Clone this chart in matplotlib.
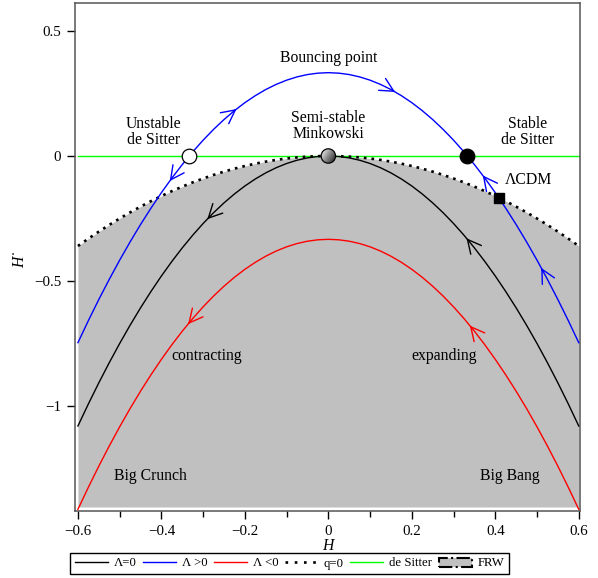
import numpy as np
import matplotlib
matplotlib.use("Agg")
import matplotlib.pyplot as plt
from matplotlib.lines import Line2D
from matplotlib.patches import Patch, Ellipse

plt.rcParams['font.family'] = ['Liberation Serif', 'DejaVu Serif']
plt.rcParams['mathtext.fontset'] = 'stix'

# ---- data ----
H = [-0.6, -0.575, -0.55, -0.525, -0.5, -0.475, -0.45, -0.425, -0.4, -0.375, -0.35, -0.325,
     -0.3, -0.275, -0.25, -0.225, -0.2, -0.175, -0.15, -0.125, -0.1, -0.075, -0.05, -0.025,
     0.0,
     0.025, 0.05, 0.075, 0.1, 0.125, 0.15, 0.175, 0.2, 0.225, 0.25, 0.275, 0.3,
     0.325, 0.35, 0.375, 0.4, 0.425, 0.45, 0.475, 0.5, 0.525, 0.55, 0.575, 0.6]
lam_zero = [-1.08, -0.9919, -0.9075, -0.8269, -0.75, -0.6769, -0.6075, -0.5419, -0.48, -0.4219,
            -0.3675, -0.3169, -0.27, -0.2269, -0.1875, -0.1519, -0.12, -0.0919, -0.0675, -0.0469,
            -0.03, -0.0169, -0.0075, -0.0019,
            0.0,
            -0.0019, -0.0075, -0.0169, -0.03, -0.0469, -0.0675, -0.0919, -0.12, -0.1519, -0.1875,
            -0.2269, -0.27, -0.3169, -0.3675, -0.4219, -0.48, -0.5419, -0.6075, -0.6769, -0.75,
            -0.8269, -0.9075, -0.9919, -1.08]
lam_pos = [-0.7467, -0.6586, -0.5742, -0.4936, -0.4167, -0.3436, -0.2742, -0.2086, -0.1467, -0.0886,
           -0.0342, 0.0164, 0.0633, 0.1064, 0.1458, 0.1814, 0.2133, 0.2414, 0.2658, 0.2864,
           0.3033, 0.3164, 0.3258, 0.3314,
           0.3333,
           0.3314, 0.3258, 0.3164, 0.3033, 0.2864, 0.2658, 0.2414, 0.2133, 0.1814, 0.1458,
           0.1064, 0.0633, 0.0164, -0.0342, -0.0886, -0.1467, -0.2086, -0.2742, -0.3436, -0.4167,
           -0.4936, -0.5742, -0.6586, -0.7467]
lam_neg = [-1.4133, -1.3252, -1.2408, -1.1602, -1.0833, -1.0102, -0.9408, -0.8752, -0.8133, -0.7552,
           -0.7008, -0.6502, -0.6033, -0.5602, -0.5208, -0.4852, -0.4533, -0.4252, -0.4008, -0.3802,
           -0.3633, -0.3502, -0.3408, -0.3352,
           -0.3333,
           -0.3352, -0.3408, -0.3502, -0.3633, -0.3802, -0.4008, -0.4252, -0.4533, -0.4852, -0.5208,
           -0.5602, -0.6033, -0.6502, -0.7008, -0.7552, -0.8133, -0.8752, -0.9408, -1.0102, -1.0833,
           -1.1602, -1.2408, -1.3252, -1.4133]
q_zero = [-0.36, -0.3306, -0.3025, -0.2756, -0.25, -0.2256, -0.2025, -0.1806, -0.16, -0.1406,
          -0.1225, -0.1056, -0.09, -0.0756, -0.0625, -0.0506, -0.04, -0.0306, -0.0225, -0.0156,
          -0.01, -0.0056, -0.0025, -0.0006,
          0.0,
          -0.0006, -0.0025, -0.0056, -0.01, -0.0156, -0.0225, -0.0306, -0.04, -0.0506, -0.0625,
          -0.0756, -0.09, -0.1056, -0.1225, -0.1406, -0.16, -0.1806, -0.2025, -0.2256, -0.25,
          -0.2756, -0.3025, -0.3306, -0.36]
frw_bottom = -1.404
de_sitter = 0.0

# fixed points
unstable_dS = (-0.3333, 0.0)
minkowski = (0.0, 0.0)
stable_dS = (0.3333, 0.0)
lcdm = (0.408, -0.1667)

# arrows: (H of tip, direction +1 = increasing H, -1 = decreasing H)
arrows_blue = [(-0.22, +1), (0.16, +1), (-0.38, -1), (0.37, -1), (0.51, -1)]
arrows_black = [(-0.29, -1), (0.331, -1)]
arrows_red = [(-0.336, -1), (0.339, -1)]

xticks = [-0.6, -0.4, -0.2, 0, 0.2, 0.4, 0.6]
xtick_labels = ['\u22120.6', '\u22120.4', '\u22120.2', '0', '0.2', '0.4', '0.6']
yticks = [0.5, 0, -0.5, -1]
ytick_labels = ['0.5', '0', '\u22120.5', '\u22121']

# ---- figure ----
fig = plt.figure(figsize=(5.98, 5.78), dpi=100)
ax = fig.add_axes([75/598, 1-511/578, (580-75)/598, (511-3)/578])

ax.fill_between(H, q_zero, frw_bottom, color='#c0c0c0', lw=0, zorder=1)
ax.plot(H, q_zero, color='black', lw=1.9, ls=(0, (1, 1.9)), dash_capstyle='butt', zorder=3)
ax.plot([H[0], H[-1]], [de_sitter, de_sitter], color='#00ff00', lw=1.0, zorder=2)
ax.plot(H, lam_zero, color='black', lw=1.0, zorder=4)
ax.plot(H, lam_pos, color='blue', lw=1.0, zorder=4)
ax.plot(H, lam_neg, color='red', lw=1.0, zorder=4)

def add_arrows(curve, specs, color):
    for h, d in specs:
        y = np.interp(h, H, curve)
        h0 = h - d * 0.004
        y0 = np.interp(h0, H, curve)
        ax.annotate('', xy=(h, y), xytext=(h0, y0),
                    arrowprops=dict(arrowstyle='->,head_length=0.75,head_width=0.38',
                                    color=color, lw=1.0, shrinkA=0, shrinkB=0,
                                    mutation_scale=13), zorder=5)

add_arrows(lam_pos, arrows_blue, 'blue')
add_arrows(lam_zero, arrows_black, 'black')
add_arrows(lam_neg, arrows_red, 'red')

# fixed point markers
ax.plot(*unstable_dS, marker='o', ms=10.5, mfc='white', mec='black', mew=0.9, zorder=6)
ax.plot(*stable_dS, marker='o', ms=10.5, mfc='black', mec='black', mew=0.9, zorder=6)
ax.plot(*lcdm, marker='s', ms=6.5, mfc='black', mec='black', zorder=6)

# shaded sphere for Minkowski
rx, ry = 7.2/417.5, 7.2/250
gx = np.linspace(0, 1, 64)
grad = np.tile(gx, (64, 1))
gy = np.linspace(0, 1, 64)[:, None]
grad = np.clip(0.6*grad + 0.4*(gy), 0, 1)
circ = Ellipse(minkowski, 2*rx, 2*ry, transform=ax.transData, fc='none', ec='black', lw=0.9, zorder=8)
im = ax.imshow(grad, cmap='Greys', vmin=-0.15, vmax=1.05,
               extent=[minkowski[0]-rx, minkowski[0]+rx, minkowski[1]-ry, minkowski[1]+ry],
               origin='upper', zorder=7, aspect='auto', interpolation='bilinear')
ax.add_patch(circ)
im.set_clip_path(circ)
ax.set_xlim(-0.607, 0.603)
ax.set_ylim(-1.42, 0.612)

fs = 11.3
ax.text(0.0, 0.392, 'Bouncing point', ha='center', va='center', fontsize=fs)
ax.text(-0.418, 0.096, 'Unstable\nde Sitter', ha='center', va='center', fontsize=fs, linespacing=1.0)
ax.text(0.0, 0.12, 'Semi-stable\nMinkowski', ha='center', va='center', fontsize=fs, linespacing=1.0)
ax.text(0.478, 0.094, 'Stable\nde Sitter', ha='center', va='center', fontsize=fs, linespacing=1.0)
ax.text(0.48, -0.096, '\u039bCDM', ha='center', va='center', fontsize=fs)
ax.text(-0.291, -0.8, 'contracting', ha='center', va='center', fontsize=fs)
ax.text(0.277, -0.8, 'expanding', ha='center', va='center', fontsize=fs)
ax.text(-0.427, -1.28, 'Big Crunch', ha='center', va='center', fontsize=fs)
ax.text(0.436, -1.28, 'Big Bang', ha='center', va='center', fontsize=fs)

# axes styling
for s in ax.spines.values():
    s.set_color('#555555')
    s.set_linewidth(1.1)
tfs = 10.8
ax.set_xticks(xticks)
ax.set_xticklabels(xtick_labels, fontsize=tfs)
ax.set_xticks(np.arange(-0.5, 0.61, 0.2), minor=True)
ax.set_yticks(yticks)
ax.set_yticklabels(ytick_labels, fontsize=tfs)
ax.tick_params(axis='both', which='major', direction='out', length=6, width=1.0, color='black', pad=4)
ax.tick_params(axis='x', which='minor', direction='out', length=4, width=1.0, color='black')
ax.set_xlabel('H', fontsize=fs, fontstyle='italic', labelpad=0)
ax.set_ylabel('H\u02D9', fontsize=fs, fontstyle='italic')
ax.yaxis.set_label_coords(-0.093, 0.494)

handles = [Line2D([], [], color='black', lw=1.0),
           Line2D([], [], color='blue', lw=1.0),
           Line2D([], [], color='red', lw=1.0),
           Line2D([], [], color='black', lw=1.9, ls=(0, (1, 2.5))),
           Line2D([], [], color='#00ff00', lw=1.0),
           Patch(facecolor='#c0c0c0', edgecolor='black', ls='-.', lw=1.5)]
labels = ['\u039b=0', '\u039b >0', '\u039b <0', 'q=0', 'de Sitter', 'FRW']
lfs = 9.2
leg = fig.legend(handles, labels, loc='center', bbox_to_anchor=(289.5/598, 1-563.5/578), ncol=6,
                 fontsize=lfs, frameon=True, fancybox=False, edgecolor='black', framealpha=1,
                 handlelength=2.6, handletextpad=0.45, columnspacing=0.5, borderpad=0.35,
                 borderaxespad=0)
leg.get_frame().set_linewidth(1.0)

fig.savefig('out.png', dpi=100)
